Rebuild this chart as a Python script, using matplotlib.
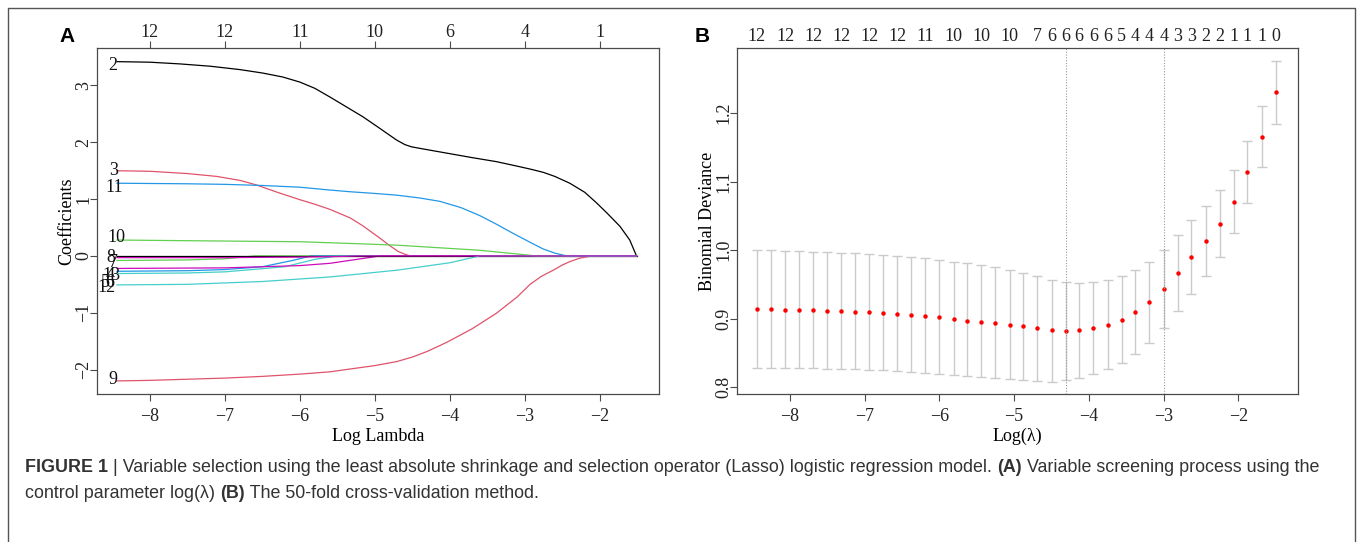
import matplotlib
matplotlib.use("Agg")
import matplotlib.pyplot as plt
from matplotlib.lines import Line2D

# ---- panel A: coefficient paths (log lambda, coefficient) knots per variable ----
path_v2 = [(-8.44, 3.42), (-8.0, 3.41), (-7.6, 3.38), (-7.2, 3.34), (-6.8, 3.28),
           (-6.5, 3.22), (-6.23, 3.15), (-6.0, 3.06), (-5.8, 2.95), (-5.59, 2.79),
           (-5.4, 2.64), (-5.16, 2.45), (-4.95, 2.26), (-4.71, 2.04), (-4.6, 1.96),
           (-4.51, 1.92), (-4.3, 1.87), (-4.0, 1.80), (-3.7, 1.73), (-3.38, 1.66),
           (-3.1, 1.58), (-2.9, 1.52), (-2.75, 1.47), (-2.6, 1.40), (-2.4, 1.28),
           (-2.2, 1.12), (-2.04, 0.93), (-1.9, 0.75), (-1.73, 0.52), (-1.6, 0.28),
           (-1.51, 0.0)]
path_v3 = [(-8.44, 1.50), (-8.0, 1.49), (-7.5, 1.45), (-7.11, 1.40), (-6.8, 1.33),
           (-6.58, 1.25), (-6.3, 1.12), (-6.0, 0.99), (-5.8, 0.91), (-5.6, 0.82),
           (-5.33, 0.67), (-5.16, 0.53), (-4.95, 0.33), (-4.8, 0.18), (-4.69, 0.08),
           (-4.6, 0.03), (-4.53, 0.0), (-1.51, 0.0)]
path_v4 = [(-8.44, -0.08), (-7.5, -0.07), (-7.0, -0.05), (-6.6, 0.0), (-1.51, 0.0)]
path_v5 = [(-8.44, -0.27), (-7.5, -0.26), (-7.0, -0.24), (-6.5, -0.19), (-6.1, -0.08),
           (-5.85, 0.0), (-1.51, 0.0)]
path_v6 = [(-8.44, -0.31), (-7.5, -0.30), (-7.0, -0.28), (-6.2, -0.19), (-5.8, -0.06),
           (-5.5, 0.0), (-1.51, 0.0)]
path_v7 = [(-8.44, -0.22), (-7.0, -0.21), (-6.0, -0.17), (-5.6, -0.13), (-4.93, 0.0),
           (-1.51, 0.0)]
path_v8 = [(-8.44, 0.0), (-1.51, 0.0)]
path_v9 = [(-8.44, -2.20), (-8.0, -2.19), (-7.5, -2.17), (-7.0, -2.15), (-6.5, -2.12),
           (-6.0, -2.08), (-5.6, -2.04), (-5.33, -1.99), (-5.0, -1.93), (-4.71, -1.86),
           (-4.5, -1.78), (-4.3, -1.68), (-4.04, -1.52), (-3.7, -1.28), (-3.38, -1.01),
           (-3.1, -0.72), (-2.93, -0.50), (-2.78, -0.36), (-2.62, -0.25), (-2.5, -0.16),
           (-2.4, -0.10), (-2.27, -0.04), (-2.15, -0.01), (-2.04, 0.0), (-1.51, 0.0)]
path_v10 = [(-8.44, 0.28), (-6.0, 0.25), (-5.33, 0.22), (-4.71, 0.19), (-3.6, 0.10),
            (-2.84, 0.0), (-1.51, 0.0)]
path_v11 = [(-8.44, 1.28), (-7.5, 1.27), (-7.0, 1.26), (-6.5, 1.24), (-6.0, 1.21),
            (-5.6, 1.16), (-5.33, 1.13), (-5.0, 1.10), (-4.71, 1.07), (-4.4, 1.02),
            (-4.13, 0.96), (-3.85, 0.85), (-3.6, 0.71), (-3.38, 0.56), (-3.16, 0.40),
            (-2.9, 0.22), (-2.75, 0.12), (-2.6, 0.05), (-2.44, 0.0), (-1.51, 0.0)]
path_v12 = [(-8.44, -0.51), (-7.5, -0.50), (-6.5, -0.45), (-5.6, -0.37), (-4.7, -0.25),
            (-4.0, -0.12), (-3.6, 0.0), (-1.51, 0.0)]
path_v13 = [(-8.44, -0.03), (-7.0, -0.03), (-6.0, -0.02), (-5.5, -0.01), (-5.2, 0.0),
            (-1.51, 0.0)]

var_ids = [2, 3, 4, 5, 6, 7, 8, 9, 10, 11, 12, 13]
paths = [path_v2, path_v3, path_v4, path_v5, path_v6, path_v7,
         path_v8, path_v9, path_v10, path_v11, path_v12, path_v13]
# where the variable numbers sit at the left end (log lambda, coefficient units)
label_x = [-8.50, -8.48, -8.53, -8.60, -8.53, -8.485, -8.52, -8.49, -8.45, -8.47, -8.58, -8.51]
label_y = [3.36, 1.50, -0.34, -0.47, -0.47, -0.11, -0.03, -2.18, 0.33, 1.20, -0.56, -0.34]

top_ticks_a = [-8, -7, -6, -5, -4, -3, -2]
top_nz_a = [12, 12, 11, 10, 6, 4, 1]

# ---- panel B: cross-validation curve ----
log_lam = [-8.44, -8.25, -8.06, -7.88, -7.69, -7.50, -7.31, -7.13, -6.94, -6.75,
           -6.56, -6.38, -6.19, -6.00, -5.81, -5.63, -5.44, -5.25, -5.06, -4.88,
           -4.69, -4.50, -4.31, -4.13, -3.94, -3.75, -3.56, -3.38, -3.19, -3.00,
           -2.81, -2.63, -2.44, -2.25, -2.06, -1.88, -1.69, -1.50]
cvm = [0.9142, 0.9137, 0.9133, 0.9128, 0.9123, 0.9118, 0.9108, 0.9099, 0.9094, 0.9084,
       0.9070, 0.9055, 0.9040, 0.9021, 0.8997, 0.8972, 0.8948, 0.8929, 0.8914, 0.8890,
       0.8856, 0.8827, 0.8822, 0.8831, 0.8860, 0.8914, 0.8987, 0.9094, 0.9240, 0.9439,
       0.9667, 0.9900, 1.0129, 1.0386, 1.0707, 1.1140, 1.1655, 1.2301]
cvup = [1.0002, 0.9998, 0.9993, 0.9988, 0.9978, 0.9973, 0.9964, 0.9954, 0.9944, 0.9934,
        0.9920, 0.9900, 0.9881, 0.9862, 0.9832, 0.9808, 0.9779, 0.9750, 0.9715, 0.9667,
        0.9618, 0.9570, 0.9536, 0.9521, 0.9536, 0.9560, 0.9618, 0.9706, 0.9832, 1.0007,
        1.0216, 1.0435, 1.0639, 1.0872, 1.1164, 1.1586, 1.2097, 1.2753]
cvlo = [0.8282, 0.8282, 0.8277, 0.8273, 0.8273, 0.8268, 0.8263, 0.8258, 0.8253, 0.8243,
        0.8234, 0.8224, 0.8209, 0.8195, 0.8180, 0.8161, 0.8146, 0.8127, 0.8114, 0.8104,
        0.8090, 0.8080, 0.8099, 0.8128, 0.8187, 0.8264, 0.8357, 0.8488, 0.8648, 0.8867,
        0.9110, 0.9363, 0.9620, 0.9902, 1.0252, 1.0694, 1.1219, 1.1846]
nzero = [12, 12, 12, 12, 12, 12, 12, 12, 12, 12, 12, 12, 11, 11, 10, 10, 10, 10, 10, 8,
         7, 6, 6, 6, 6, 6, 5, 4, 4, 4, 3, 3, 2, 2, 1, 1, 1, 0]
idx_min = 22
idx_1se = 29

caption_1 = [("FIGURE 1 ", "bold"),
             ("| Variable selection using the least absolute shrinkage and selection operator "
              "(Lasso) logistic regression model. ", "normal"),
             ("(A)", "bold"),
             (" Variable screening process using the", "normal")]
caption_2 = [("control parameter log(\u03bb) ", "normal"),
             ("(B)", "bold"),
             (" The 50-fold cross-validation method.", "normal")]

R_COLS = ["#000000", "#DF536B", "#61D04F", "#2297E6", "#45CFCB", "#CD0BBC"]
SERIF = "Liberation Serif"
FS = 13
BOX = "#4a4a4a"

plt.rcParams["font.family"] = SERIF
plt.rcParams["axes.unicode_minus"] = True

W, H = 1357, 542
fig = plt.figure(figsize=(W / 100, H / 100), dpi=100)


def style_axes(ax):
    for s in ax.spines.values():
        s.set_color(BOX)
        s.set_linewidth(0.9)
    ax.tick_params(axis="both", direction="out", length=5, width=0.8, color=BOX,
                   labelsize=FS, labelcolor="#222222")
    ax.tick_params(axis="x", pad=5)
    ax.tick_params(axis="y", pad=-2, labelrotation=90)
    plt.setp(ax.get_yticklabels(), va="center")


# ---- Panel A ----
axA = fig.add_axes([96.7 / W, 1 - 394 / H, (659 - 96.7) / W, (394 - 48) / H])
for k, p in zip(var_ids, paths):
    xs = [a for a, b in p]
    ys = [b for a, b in p]
    axA.plot(xs, ys, color=R_COLS[(k - 2) % 6], lw=0.9)
for k, lx, ly in zip(var_ids, label_x, label_y):
    axA.text(lx, ly, str(k), ha="center", va="center", fontsize=FS, color="#111111")
axA.set_xlim(-8.71, -1.21)
axA.set_ylim(-2.43, 3.66)
axA.set_xticks([-8, -7, -6, -5, -4, -3, -2])
axA.set_yticks([-2, -1, 0, 1, 2, 3])
style_axes(axA)
axA.set_xlabel("Log Lambda", fontsize=FS, labelpad=2)
axA.set_ylabel("Coefficients", fontsize=FS, labelpad=0)
topA = axA.secondary_xaxis("top")
topA.set_xticks(top_ticks_a, [str(n) for n in top_nz_a])
topA.tick_params(direction="out", length=5, width=0.8, color=BOX, labelsize=FS,
                 labelcolor="#222222", pad=0)
topA.spines["top"].set_visible(False)

# ---- Panel B ----
axB = fig.add_axes([736.7 / W, 1 - 394 / H, (1298.3 - 736.7) / W, (394 - 48) / H])
err_lo = [m - l for m, l in zip(cvm, cvlo)]
err_hi = [u - m for m, u in zip(cvm, cvup)]
axB.errorbar(log_lam, cvm, yerr=[err_lo, err_hi], fmt="none", ecolor="#cbcbcb",
             elinewidth=1.0, capsize=3.8, capthick=1.0)
axB.plot(log_lam, cvm, "o", color="red", markersize=3.2, markeredgewidth=0)
axB.axvline(log_lam[idx_min], color="#9a9a9a", lw=0.8, ls=(0, (1, 1.5)))
axB.axvline(log_lam[idx_1se], color="#9a9a9a", lw=0.8, ls=(0, (1, 1.5)))
axB.set_xlim(-8.71, -1.20)
axB.set_ylim(0.790, 1.295)
axB.set_xticks([-8, -7, -6, -5, -4, -3, -2])
axB.set_yticks([0.8, 0.9, 1.0, 1.1, 1.2])
axB.set_yticklabels(["0.8", "0.9", "1.0", "1.1", "1.2"])
style_axes(axB)
axB.set_xlabel("Log(\u03bb)", fontsize=FS, labelpad=2)
axB.set_ylabel("Binomial Deviance", fontsize=FS, labelpad=0)

# top labels: drop ones that would overlap the previous shown label
shown_x, shown_lab = [], []
for x, n in zip(log_lam, nzero):
    lab = str(n)
    if shown_x:
        need = (len(lab) + len(shown_lab[-1])) / 2 * 0.12 + 0.05
        if x - shown_x[-1] < need:
            continue
    shown_x.append(x)
    shown_lab.append(lab)
topB = axB.secondary_xaxis("top")
topB.set_xticks(shown_x, shown_lab)
topB.tick_params(length=0, labelsize=FS, labelcolor="#222222", pad=2)
topB.spines["top"].set_visible(False)

# panel letters
fig.text(66.7 / W, 1 - 36 / H, "A", fontsize=15, fontweight="bold",
         family="Liberation Sans", ha="center", va="center")
fig.text(701.7 / W, 1 - 36 / H, "B", fontsize=15, fontweight="bold",
         family="Liberation Sans", ha="center", va="center")

# caption
renderer = fig.canvas.get_renderer()
for segs, ypix in [(caption_1, 468), (caption_2, 494)]:
    x = 25 / W
    for s, w in segs:
        t = fig.text(x, 1 - ypix / H, s, fontsize=12.9, fontweight=w,
                     family="Liberation Sans", color="#333333", va="center", ha="left")
        bb = t.get_window_extent(renderer)
        x = bb.x1 / W

# outer frame (top, left, right)
fx0, fx1, fy1 = 7.5 / W, 1355 / W, 1 - 8 / H
fig.add_artist(Line2D([fx0, fx0, fx1, fx1], [0, fy1, fy1, 0], transform=fig.transFigure,
                      color="#555555", lw=1.0))

fig.savefig("out.png", dpi=100)
